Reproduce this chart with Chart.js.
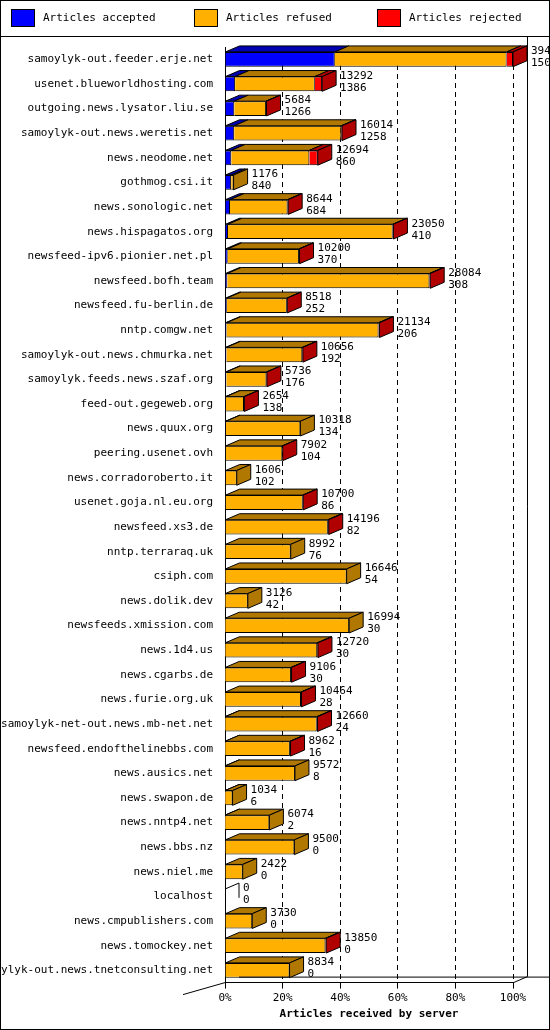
<!DOCTYPE html>
<html><head><meta charset="utf-8">
<script src="https://cdn.jsdelivr.net/npm/chart.js@4"></script>
<style>
body{margin:0;background:#fff;font-family:"DejaVu Sans Mono",monospace;}
#wrap{position:relative;width:548px;height:1028px;border:1px solid #000;}
#legend{position:absolute;left:0;top:0;width:548px;height:35px;border-bottom:1px solid #000;font-size:11px;}
.lg{position:absolute;top:12px;}
.lg span.box{display:inline-block;width:22px;height:16px;vertical-align:middle;margin-right:8px;border:1px solid #000;}
canvas{position:absolute;left:0;top:0;}
</style></head>
<body>
<div id="wrap">
<canvas id="c" width="548" height="1028"></canvas>
<div id="legend">
 <div class="lg" style="left:10px;top:8px"><span class="box" style="background:#0000ff"></span>Articles accepted</div>
 <div class="lg" style="left:193px;top:8px"><span class="box" style="background:#ffb000"></span>Articles refused</div>
 <div class="lg" style="left:376px;top:8px"><span class="box" style="background:#ff0000"></span>Articles rejected</div>
</div>
</div>
<script>
const servers = ['samoylyk-out.feeder.erje.net','usenet.blueworldhosting.com','outgoing.news.lysator.liu.se','samoylyk-out.news.weretis.net','news.neodome.net','gothmog.csi.it','news.sonologic.net','news.hispagatos.org','newsfeed-ipv6.pionier.net.pl','newsfeed.bofh.team','newsfeed.fu-berlin.de','nntp.comgw.net','samoylyk-out.news.chmurka.net','samoylyk.feeds.news.szaf.org','feed-out.gegeweb.org','news.quux.org','peering.usenet.ovh','news.corradoroberto.it','usenet.goja.nl.eu.org','newsfeed.xs3.de','nntp.terraraq.uk','csiph.com','news.dolik.dev','newsfeeds.xmission.com','news.1d4.us','news.cgarbs.de','news.furie.org.uk','samoylyk-net-out.news.mb-net.net','newsfeed.endofthelinebbs.com','news.ausics.net','news.swapon.de','news.nntp4.net','news.bbs.nz','news.niel.me','localhost','news.cmpublishers.com','news.tomockey.net','samoylyk-out.news.tnetconsulting.net'];
const totals = [39416,13292,5684,16014,12694,1176,8644,23050,10200,28084,8518,21134,10656,5736,2654,10318,7902,1606,10700,14196,8992,16646,3126,16994,12720,9106,10464,12660,8962,9572,1034,6074,9500,2422,0,3730,13850,8834];
const accepted = [15028,1386,1266,1258,860,840,684,410,370,308,252,206,192,176,138,134,104,102,86,82,76,54,42,30,30,30,28,24,16,8,6,2,0,0,0,0,0,0];
const rejected = [870,1000,60,100,1150,0,80,100,80,100,60,120,80,60,50,0,60,0,60,120,0,0,0,0,100,80,60,100,80,0,0,0,0,0,0,0,100,0];
const refused = totals.map((t,i)=>t-accepted[i]-rejected[i]);
const maxVal = 39416;

const DX = 14, DY = 6;
function dark(c){return {'#0000ff':'#0000b0','#ffb000':'#b07800','#ff0000':'#b00000'}[c];}

const cube = {
  id:'cube',
  afterDatasetsDraw(chart){
    const ctx = chart.ctx, ca = chart.chartArea;
    ctx.save();
    ctx.strokeStyle='#000';ctx.lineWidth=1;
    // back wall right line and floor
    ctx.beginPath();
    ctx.moveTo(ca.right+DX+0.5,36);ctx.lineTo(ca.right+DX+0.5,ca.bottom-DY);
    ctx.lineTo(ca.right+0.5,ca.bottom);
    ctx.moveTo(ca.left+DX,ca.bottom-DY+0.5);ctx.lineTo(ca.right+DX+40,ca.bottom-DY+0.5);
    ctx.moveTo(ca.left-DX*3,ca.bottom+DY*2);ctx.lineTo(ca.left,ca.bottom);
    ctx.stroke();
    servers.forEach((s,i)=>{
      let last=null, top=null, bottom=null;
      chart.data.datasets.forEach((ds,d)=>{
        const el = chart.getDatasetMeta(d).data[i];
        const x0 = Math.min(el.base,el.x), x1=Math.max(el.base,el.x);
        top = el.y-el.height/2; bottom = el.y+el.height/2;
        if(x1-x0>0.3){
          ctx.fillStyle = dark(ds.backgroundColor);
          ctx.beginPath();
          ctx.moveTo(x0,top);ctx.lineTo(x0+DX,top-DY);ctx.lineTo(x1+DX,top-DY);ctx.lineTo(x1,top);ctx.closePath();
          ctx.fill();ctx.stroke();
          last = {x:x1,c:ds.backgroundColor};
        }
      });
      const el0 = chart.getDatasetMeta(0).data[i];
      const endX = last ? last.x : el0.base;
      if(last){
        ctx.fillStyle = dark(last.c);
        ctx.beginPath();
        ctx.moveTo(endX,top);ctx.lineTo(endX+DX,top-DY);ctx.lineTo(endX+DX,bottom-DY);ctx.lineTo(endX,bottom);ctx.closePath();
        ctx.fill();ctx.stroke();
      } else {
        ctx.beginPath();ctx.moveTo(endX,top);ctx.lineTo(endX+DX,top-DY);ctx.lineTo(endX+DX,bottom-DY);ctx.stroke();
      }
      ctx.fillStyle='#000';ctx.font='11px "DejaVu Sans Mono"';ctx.textBaseline='middle';
      ctx.fillText(String(totals[i]),endX+DX+4,el0.y-8);
      ctx.fillText(String(accepted[i]),endX+DX+4,el0.y+4);
    });
    ctx.restore();
  }
};

const mk = (label,data,color)=>({label,data,backgroundColor:color,borderColor:'#000',borderWidth:1,barPercentage:0.6,categoryPercentage:1});
new Chart(document.getElementById('c'),{
  type:'bar',
  data:{labels:servers,datasets:[mk('Articles accepted',accepted,'#0000ff'),mk('Articles refused',refused,'#ffb000'),mk('Articles rejected',rejected,'#ff0000')]},
  plugins:[cube],
  options:{
    indexAxis:'y',responsive:false,animation:false,
    layout:{padding:{top:46,right:36,left:0,bottom:4}},
    plugins:{legend:{display:false},tooltip:{enabled:false}},
    scales:{
      x:{stacked:true,min:0,max:maxVal,
        afterBuildTicks(a){a.ticks=[0,1,2,3,4,5,6,7,8,9,10].map(k=>({value:maxVal*k/10}));},
        ticks:{color:'#000',font:{family:'DejaVu Sans Mono',size:11},maxRotation:0,callback:v=>Math.round(v/maxVal*100)+'%'},
        grid:{color:c=>c.index===0?'#000':'#000',tickLength:6,drawOnChartArea:true},
        border:{display:true,color:'#000',dash:[5,4]},
        title:{display:true,text:'Articles received by server',color:'#000',font:{family:'DejaVu Sans Mono',size:11,weight:'bold'},padding:{top:0}}
      },
      y:{stacked:true,
        afterFit(s){s.width=224;},
        ticks:{color:'#000',font:{family:'DejaVu Sans Mono',size:11},autoSkip:false,padding:4},
        grid:{display:false},border:{color:'#000'}
      }
    }
  }
});
</script>
</body></html>
